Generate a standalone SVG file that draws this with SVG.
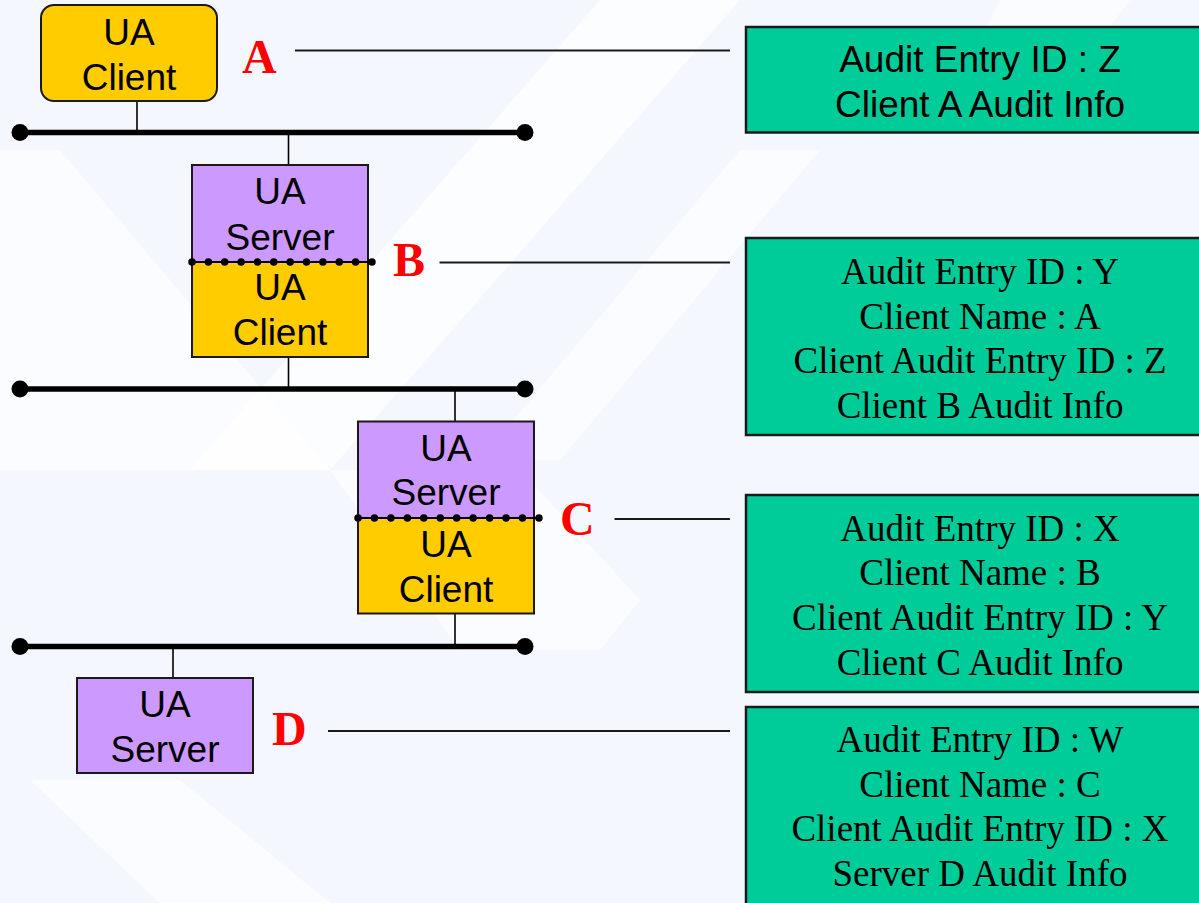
<svg xmlns="http://www.w3.org/2000/svg" width="1199" height="903" viewBox="0 0 1199 903">
  <defs>
    <style>
      .bg { fill: #f4f8fe; }
      .bgw { fill: #ffffff; }
      .client { fill: #ffcc00; stroke: #1a1a1a; stroke-width: 2; }
      .server { fill: #cc99ff; stroke: #1a1a1a; stroke-width: 2; }
      .info { fill: #00cc99; stroke: #1a1a1a; stroke-width: 2.5; }
      .bus { stroke: #000; stroke-width: 5.5; }
      .busend { fill: #000; }
      .tap { stroke: #000; stroke-width: 1.6; }
      .lead { stroke: #1a1a1a; stroke-width: 2; }
      .dotline { stroke: #000; stroke-width: 1.8; }
      .dots { stroke: #000; stroke-width: 7.5; stroke-linecap: round; stroke-dasharray: 0 16.36; }
      .ntext { font-family: "Liberation Sans", Arial, sans-serif; font-size: 37px; fill: #000; text-anchor: middle; }
      .stext { font-family: "Liberation Serif", "Times New Roman", serif; font-size: 37px; fill: #000; text-anchor: middle; }
      .label { font-family: "Liberation Serif", "Times New Roman", serif; font-size: 48px; font-weight: bold; fill: #ff0000; }
    </style>
  </defs>

  <g id="background">
    <rect class="bg" x="0" y="0" width="1199" height="903"/>
    <polygon class="bgw" points="600,0 740,0 330,470 190,470" opacity="0.7"/>
    <polygon class="bgw" points="0,150 60,150 330,470 0,470" opacity="0.6"/>
    <polygon class="bgw" points="740,150 820,150 560,460 480,460" opacity="0.6"/>
    <polygon class="bgw" points="330,470 520,470 640,600 600,650 460,650" opacity="0.6"/>
    <polygon class="bgw" points="30,780 180,780 330,903 160,903" opacity="0.6"/>
    <polygon class="bgw" points="1000,0 1130,0 1040,120 940,120" opacity="0.6"/>
  </g>

  <g id="connectors">
    <line class="bus" x1="20" y1="132.5" x2="525" y2="132.5"/>
    <circle class="busend" cx="20" cy="132.5" r="8.5"/>
    <circle class="busend" cx="525" cy="132.5" r="8.5"/>
    <line class="bus" x1="20" y1="389" x2="525" y2="389"/>
    <circle class="busend" cx="20" cy="389" r="8.5"/>
    <circle class="busend" cx="525" cy="389" r="8.5"/>
    <line class="bus" x1="20" y1="646.5" x2="525" y2="646.5"/>
    <circle class="busend" cx="20" cy="646.5" r="8.5"/>
    <circle class="busend" cx="525" cy="646.5" r="8.5"/>

    <line class="tap" x1="137" y1="101" x2="137" y2="132"/>
    <line class="tap" x1="288.5" y1="132" x2="288.5" y2="165"/>
    <line class="tap" x1="288.5" y1="357" x2="288.5" y2="389"/>
    <line class="tap" x1="455" y1="389" x2="455" y2="421"/>
    <line class="tap" x1="455" y1="614" x2="455" y2="646"/>
    <line class="tap" x1="173" y1="646" x2="173" y2="678"/>

    <line class="lead" x1="295" y1="50.5" x2="730" y2="50.5"/>
    <line class="lead" x1="439.5" y1="262.5" x2="730" y2="262.5"/>
    <line class="lead" x1="614.5" y1="519" x2="730" y2="519"/>
    <line class="lead" x1="328" y1="731" x2="730" y2="731"/>
  </g>

  <g id="nodeA">
    <rect class="client" x="41" y="5" width="176" height="96" rx="13" ry="13"/>
    <text class="ntext" x="129" y="45">UA</text>
    <text class="ntext" x="129" y="90">Client</text>
  </g>

  <g id="nodeB">
    <rect class="server" x="192" y="165" width="176" height="97"/>
    <rect class="client" x="192" y="262" width="176" height="95"/>
    <line class="dotline" x1="192" y1="262" x2="372" y2="262"/>
    <line class="dots" x1="192" y1="262" x2="372" y2="262"/>
    <text class="ntext" x="280" y="204">UA</text>
    <text class="ntext" x="280" y="250">Server</text>
    <text class="ntext" x="280" y="300">UA</text>
    <text class="ntext" x="280" y="345">Client</text>
  </g>

  <g id="nodeC">
    <rect class="server" x="358" y="421.5" width="176" height="96.5"/>
    <rect class="client" x="358" y="518" width="176" height="95.5"/>
    <line class="dotline" x1="358" y1="518" x2="539" y2="518"/>
    <line class="dots" x1="358" y1="518" x2="539" y2="518" style="stroke-dasharray: 0 16.45"/>
    <text class="ntext" x="446" y="461">UA</text>
    <text class="ntext" x="446" y="505">Server</text>
    <text class="ntext" x="446" y="557">UA</text>
    <text class="ntext" x="446" y="602">Client</text>
  </g>

  <g id="nodeD">
    <rect class="server" x="77" y="678" width="176" height="95"/>
    <text class="ntext" x="165" y="717">UA</text>
    <text class="ntext" x="165" y="762">Server</text>
  </g>

  <g id="labels">
    <text class="label" x="242" y="73">A</text>
    <text class="label" x="393" y="276">B</text>
    <text class="label" x="560" y="535">C</text>
    <text class="label" x="272" y="745">D</text>
  </g>

  <g id="infoA">
    <rect class="info" x="746" y="27" width="470" height="105.5"/>
    <text class="ntext" x="980" y="71.5">Audit Entry ID : Z</text>
    <text class="ntext" x="980" y="116.5">Client A Audit Info</text>
  </g>

  <g id="infoB">
    <rect class="info" x="746" y="238" width="470" height="197"/>
    <text class="stext" x="980" y="284">Audit Entry ID : Y</text>
    <text class="stext" x="980" y="328.5">Client Name : A</text>
    <text class="stext" x="980" y="372.5">Client Audit Entry ID : Z</text>
    <text class="stext" x="980" y="417.5">Client B Audit Info</text>
  </g>

  <g id="infoC">
    <rect class="info" x="746" y="495" width="470" height="197"/>
    <text class="stext" x="980" y="540.5">Audit Entry ID : X</text>
    <text class="stext" x="980" y="585">Client Name : B</text>
    <text class="stext" x="980" y="630">Client Audit Entry ID : Y</text>
    <text class="stext" x="980" y="675">Client C Audit Info</text>
  </g>

  <g id="infoD">
    <rect class="info" x="746" y="707" width="470" height="210"/>
    <text class="stext" x="980" y="751.5">Audit Entry ID : W</text>
    <text class="stext" x="980" y="796.5">Client Name : C</text>
    <text class="stext" x="980" y="841">Client Audit Entry ID : X</text>
    <text class="stext" x="980" y="886">Server D Audit Info</text>
  </g>
</svg>
